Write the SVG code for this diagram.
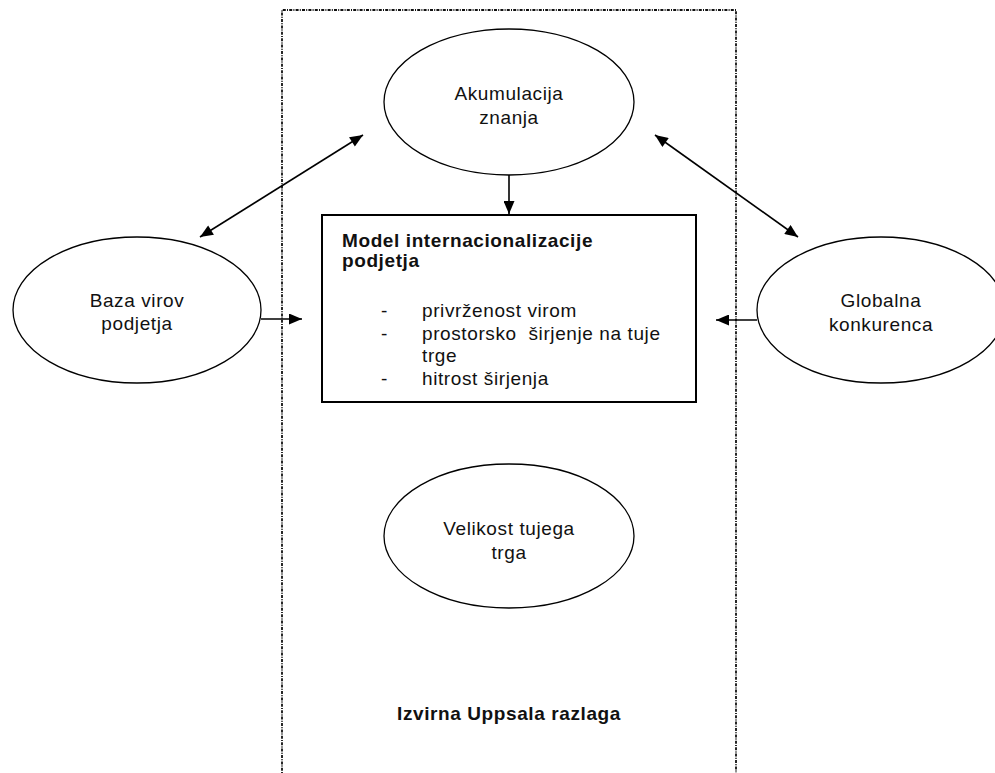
<svg xmlns="http://www.w3.org/2000/svg" width="995" height="773" viewBox="0 0 995 773">
<defs>
<style>
.bg{fill:#fff}
.frame{fill:none;stroke:#111;stroke-width:1.8;stroke-dasharray:3,1.2,1,1.2}
.ell{fill:#fff;stroke:#000;stroke-width:1.3}
.box{fill:#fff;stroke:#000;stroke-width:2}
.t{font-family:"Liberation Sans",Arial,sans-serif;font-size:19px;letter-spacing:0.6px;fill:#111}
.c{text-anchor:middle}
.b{font-weight:bold}
.conn{fill:none;stroke:#000;stroke-width:1.6}
</style>
<marker id="ah" viewBox="0 0 13 11" refX="13" refY="5.5" markerWidth="14" markerHeight="11" markerUnits="userSpaceOnUse" orient="auto-start-reverse">
<path d="M0,0 L13,5.5 L0,11 Z" fill="#000"/>
</marker>
</defs>
<rect class="bg" x="0" y="0" width="995" height="773"/>
<path class="frame" d="M282,790 V10 H736 V790"/>

<g id="akumulacija">
<ellipse class="ell" cx="509" cy="102" rx="125" ry="73"/>
<text class="t c" x="509" y="100">Akumulacija</text>
<text class="t c" x="509" y="124">znanja</text>
</g>

<g id="model">
<rect class="box" x="322" y="215" width="374" height="187"/>
<text class="t b" x="342" y="247">Model internacionalizacije</text>
<text class="t b" x="342" y="267">podjetja</text>
<text class="t" x="381" y="317">-</text>
<text class="t" x="422" y="317">privrženost virom</text>
<text class="t" x="381" y="340">-</text>
<text class="t" x="422" y="340" xml:space="preserve">prostorsko  širjenje na tuje</text>
<text class="t" x="422" y="362">trge</text>
<text class="t" x="381" y="385">-</text>
<text class="t" x="422" y="385">hitrost širjenja</text>
</g>

<g id="baza">
<ellipse class="ell" cx="137" cy="310" rx="124" ry="73"/>
<text class="t c" x="137" y="307">Baza virov</text>
<text class="t c" x="137" y="330">podjetja</text>
</g>

<g id="globalna">
<ellipse class="ell" cx="881" cy="310" rx="124" ry="73"/>
<text class="t c" x="881" y="307">Globalna</text>
<text class="t c" x="881" y="331">konkurenca</text>
</g>

<g id="velikost">
<ellipse class="ell" cx="509" cy="536" rx="125" ry="72"/>
<text class="t c" x="509" y="535">Velikost tujega</text>
<text class="t c" x="509" y="559">trga</text>
</g>

<g id="label">
<text class="t c b" x="509" y="720">Izvirna Uppsala razlaga</text>
</g>

<g id="connectors">
<line class="conn" x1="509" y1="175" x2="509" y2="214" marker-end="url(#ah)"/>
<line class="conn" x1="200" y1="237" x2="363" y2="135" marker-start="url(#ah)" marker-end="url(#ah)"/>
<line class="conn" x1="655" y1="135" x2="798" y2="237" marker-start="url(#ah)" marker-end="url(#ah)"/>
<line class="conn" x1="261" y1="319" x2="302" y2="319" marker-end="url(#ah)"/>
<line class="conn" x1="757" y1="320" x2="716" y2="320" marker-end="url(#ah)"/>
</g>
</svg>
